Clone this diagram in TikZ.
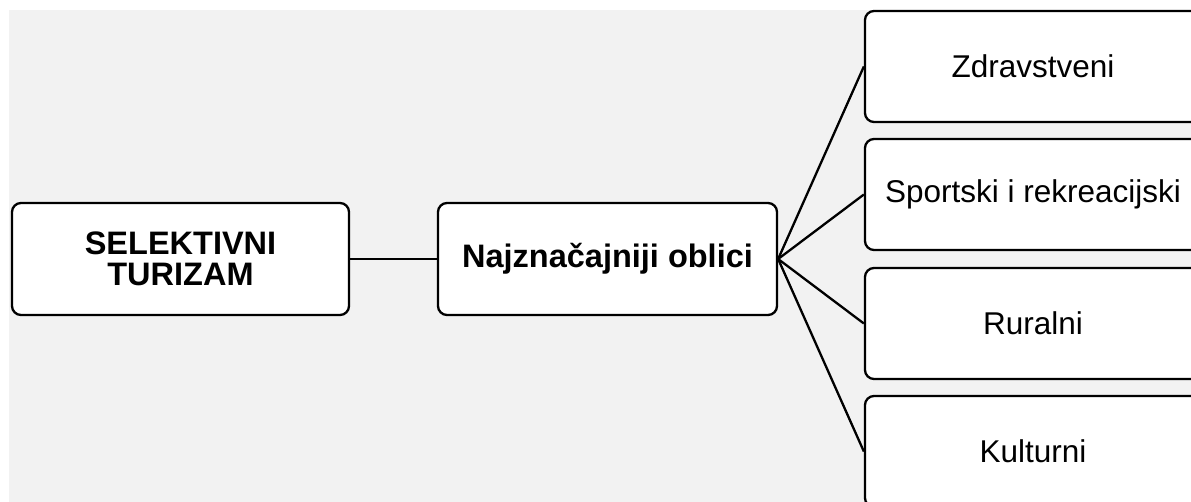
\documentclass[tikz,border=0pt]{standalone}
\usepackage{fontspec}
\setmainfont{Liberation Sans}
\definecolor{bggrey}{HTML}{F2F2F2}
\begin{document}
\begin{tikzpicture}[x=1pt,y=-1pt,
  box/.style={draw=black,fill=white,line width=2.3pt,rounded corners=9pt,
    inner sep=0pt,align=center,font=\fontsize{31.5}{31}\selectfont},
  mainbox/.style={box,minimum width=337pt,minimum height=112pt,font=\fontsize{32.5}{31}\selectfont\bfseries},
  sidebox/.style={box,minimum width=336pt,minimum height=111pt},
  link/.style={draw=black,line width=2.3pt}]
\useasboundingbox (0,0) rectangle (1191,502);
\fill[bggrey] (9,10) rectangle (1191,502);
\node[mainbox] (sel) at (180.5,259) {SELEKTIVNI\\TURIZAM};
\node[mainbox,minimum width=339pt] (naj) at (607.5,259) {Najznačajniji oblici};
\node[sidebox] (r1) at (1033,66.5) {Zdravstveni};
\node[sidebox] (r2) at (1033,194.5) {Sportski i rekreacijski};
\node[sidebox] (r3) at (1033,323.5) {Ruralni};
\node[sidebox] (r4) at (1033,451.5) {Kulturni};
\draw[link] (sel.east) -- (naj.west);
\foreach \r in {r1,r2,r3,r4} \draw[link] (naj.east) -- (\r.west);
\end{tikzpicture}
\end{document}
